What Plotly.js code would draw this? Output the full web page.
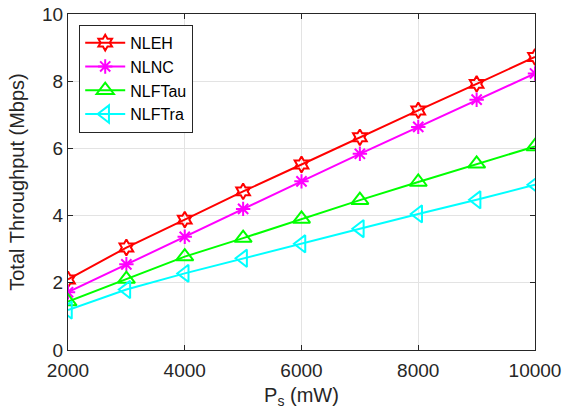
<!DOCTYPE html>
<html>
<head>
<meta charset="utf-8">
<script src="https://cdn.plot.ly/plotly-3.0.1.min.js"></script>
<style>html,body{margin:0;padding:0;background:#fff;}#chart{width:571px;height:420px;}</style>
</head>
<body>
<div id="chart"></div>
<script>
var ps = [2000, 3000, 4000, 5000, 6000, 7000, 8000, 9000, 10000];
var nleh = [2.1, 3.05, 3.88, 4.72, 5.52, 6.33, 7.13, 7.92, 8.72];
var nlnc = [1.72, 2.55, 3.37, 4.2, 5.02, 5.84, 6.64, 7.45, 8.23];
var nlftau = [1.44, 2.11, 2.78, 3.33, 3.9, 4.46, 5.0, 5.54, 6.06];
var nlftra = [1.19, 1.8, 2.28, 2.73, 3.16, 3.61, 4.05, 4.47, 4.92];
var xTickVals = [2000, 4000, 6000, 8000, 10000];
var xTickText = ['2000', '4000', '6000', '8000', '10000'];
var yTickVals = [0, 2, 4, 6, 8, 10];
var names = ['NLEH', 'NLNC', 'NLFTau', 'NLFTra'];
var colors = ['#ff0000', '#ff00ff', '#00ff00', '#00ffff'];
var symbols = ['hexagram-open', 'asterisk-open', 'triangle-up-open', 'triangle-left-open'];
var sizes = [12, 12, 15, 15];
var series = [nleh, nlnc, nlftau, nlftra];

var traces = series.map(function (s, i) {
  return {
    x: ps, y: s, name: names[i], type: 'scatter', mode: 'lines+markers',
    line: {color: colors[i], width: 2},
    marker: {symbol: symbols[i], size: sizes[i], color: colors[i], line: {color: colors[i], width: 2}}
  };
});

var axisCommon = {
  showline: true, linecolor: '#262626', linewidth: 1, mirror: 'ticks',
  ticks: 'inside', ticklen: 5, tickcolor: '#262626', tickwidth: 1,
  showgrid: true, gridcolor: '#e3e3e3', gridwidth: 1, zeroline: false,
  tickfont: {family: 'Liberation Sans, Arial, sans-serif', size: 19, color: '#262626'}
};

var layout = {
  width: 571, height: 420,
  margin: {l: 68, r: 36, t: 14, b: 70},
  paper_bgcolor: '#ffffff', plot_bgcolor: '#ffffff',
  font: {family: 'Liberation Sans, Arial, sans-serif', size: 19, color: '#262626'},
  showlegend: true,
  legend: {
    x: 0.024, y: 0.968, xanchor: 'left', yanchor: 'top',
    bgcolor: '#ffffff', bordercolor: '#262626', borderwidth: 1,
    font: {family: 'Liberation Sans, Arial, sans-serif', size: 16, color: '#000000'},
    tracegroupgap: 0, itemwidth: 40
  },
  xaxis: Object.assign({}, axisCommon, {
    range: [2000, 10000], tickvals: xTickVals, ticktext: xTickText,
    ticklabelstandoff: 3,
    title: {text: 'P<sub>s</sub> (mW)', font: {size: 20, color: '#262626'}, standoff: 8}
  }),
  yaxis: Object.assign({}, axisCommon, {
    range: [0, 10], tickvals: yTickVals,
    title: {text: 'Total Throughput (Mbps)', font: {size: 20, color: '#262626'}, standoff: 12}
  })
};

Plotly.newPlot('chart', traces, layout, {displayModeBar: false, staticPlot: true});
</script>
</body>
</html>
